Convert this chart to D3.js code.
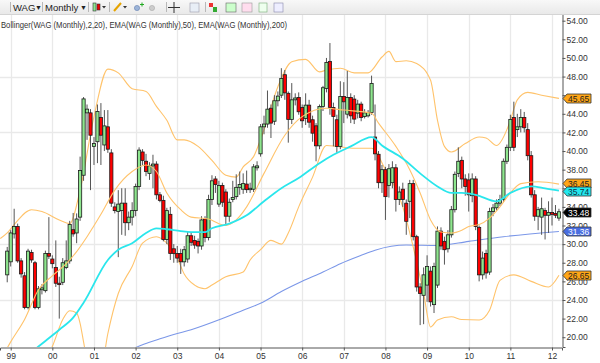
<!DOCTYPE html>
<html><head><meta charset="utf-8">
<script src="https://cdn.jsdelivr.net/npm/d3@7"></script>
<style>
body{margin:0;background:#fff;overflow:hidden;}
svg{display:block;font-family:"Liberation Sans",Arial,sans-serif;}
</style></head><body>
<svg id="c" width="600" height="363"></svg>
<script>
// ---------- DATA ----------
const symbol = "WAG";
const period = "Monthly";
const legendText = "Bollinger(WAG (Monthly),2,20), EMA(WAG (Monthly),50), EMA(WAG (Monthly),200)";
const firstMonthIndex = -1; // Dec 1998 (0 = Jan 1999)
const yearTicks = [0,12,24,36,48,60,72,84,96,108,120,132,144,156];
const yearLabels = ["99","00","01","02","03","04","05","06","07","08","09","10","11","12"];
const priceTicks = [20,22,24,26,28,30,32,34,36,38,40,42,44,46,48,50,52,54];
const gridPrices = [24,30,36,42,48];

const open = [26.7,28.1,31.1,31.9,28.2,26.6,23.2,29.1,28.0,23.2,25.1,25.0,29.0,28.4,27.5,25.8,25.9,27.5,28.2,31.55,31.2,32.9,37.4,44.1,44.1,40.5,41.0,43.6,40.65,42.6,39.8,34.0,33.5,33.6,34.4,32.3,32.9,33.6,36.2,39.9,38.9,37.6,38.4,38.6,35.3,34.7,30.5,33.2,29.5,29.0,29.0,28.1,28.4,
30.9,30.4,30.3,29.8,32.7,30.7,34.8,37.0,34.3,36.3,35.6,33.0,34.8,35.1,36.1,35.9,36.45,35.85,35.9,38.2,39.7,42.6,42.9,44.6,43.2,45.4,46.0,48.2,46.2,43.4,45.5,45.76,44.68,43.5,44.93,43.36,42.71,40.56,44.79,46.72,49.63,44.68,43.36,40.49,45.86,43.96,45.76,45.58,44.07,45.04,43.7,43.78,44.14,
41.5,39.65,36.6,38.0,36.3,36.6,38.2,34.8,35.9,34.4,34.6,36.5,30.8,25.4,24.5,25.6,27.1,23.5,25.6,31.4,30.3,29.5,31.0,33.7,37.6,39.0,37.0,36.9,35.2,37.0,31.8,26.7,29.0,27.0,33.5,33.9,34.4,34.8,38.9,40.4,43.6,42.3,42.6,43.6,42.3,39.5,35.3,33.0,32.9,33.6,33.1,33.4,33.3,32.8];
const high = [29.7,31.5,33.8,32.2,28.5,27.0,29.5,29.4,28.2,25.5,25.7,29.3,32.9,28.8,30.4,26.5,28.5,30.4,32.5,33.35,33.3,39.4,45.8,45.0,44.5,41.5,45.0,45.15,44.4,44.4,40.2,34.5,35.8,36.0,36.0,33.5,34.5,36.5,40.4,40.2,39.7,38.8,39.6,38.9,35.6,35.2,33.9,34.0,30.0,29.8,29.5,29.8,31.3,
31.3,30.9,30.6,33.0,33.0,35.3,37.4,37.3,36.8,36.6,35.9,34.9,36.8,37.5,37.8,37.6,37.9,36.6,38.6,38.9,42.9,43.8,46.5,45.0,46.0,46.4,48.9,48.7,46.4,47.3,46.2,46.3,45.0,46.2,45.5,43.8,43.0,45.0,47.0,50.0,51.6,45.2,43.9,47.5,47.4,48.6,46.2,46.0,45.5,45.3,44.5,44.4,48.1,
45.0,40.0,38.5,38.3,38.6,38.9,38.6,36.2,36.6,34.8,36.9,36.9,31.0,25.8,27.5,28.8,27.6,28.0,31.9,31.8,30.8,31.5,34.1,37.8,40.4,39.4,37.5,37.6,37.6,37.3,32.0,29.2,29.4,33.9,34.3,34.8,35.3,39.2,40.7,43.9,45.3,44.0,44.5,44.2,43.0,40.0,35.8,34.0,35.0,33.9,34.6,35.0,34.2,33.8];
const low = [25.9,27.6,30.6,28.0,26.4,23.0,23.0,28.0,23.0,23.0,24.6,24.8,28.4,27.4,25.4,22.0,25.6,27.3,27.9,30.8,30.1,32.5,36.8,41.2,35.8,38.5,38.7,38.5,40.0,39.8,34.0,33.3,28.6,31.0,30.9,31.5,32.0,33.0,35.8,38.5,37.3,36.9,36.0,34.8,34.5,30.3,30.0,28.3,28.0,28.0,26.8,27.6,28.0,
29.8,29.5,29.0,29.4,30.2,30.4,34.2,35.5,34.0,34.0,32.0,32.4,34.5,34.8,35.3,35.4,35.5,35.5,35.6,37.9,39.4,41.8,42.5,41.4,42.8,44.8,45.7,45.5,40.9,42.9,44.9,43.9,42.5,42.8,42.5,41.0,38.9,40.2,44.3,46.3,43.9,40.5,39.8,40.2,43.0,43.5,43.0,42.9,43.5,43.2,43.5,43.6,43.9,
39.0,36.0,35.5,32.6,35.0,36.0,33.5,34.2,34.0,31.0,32.8,30.4,24.9,21.3,21.4,23.8,23.3,22.6,25.3,29.4,27.8,29.1,30.7,33.4,37.2,36.0,35.2,33.5,34.5,31.5,26.0,26.2,26.3,26.7,33.0,33.6,34.1,34.5,38.6,40.0,40.0,41.5,42.0,42.0,39.0,35.0,32.5,31.5,31.0,30.5,31.2,32.0,32.8,32.5];
const close = [29.25,31.2,31.9,28.2,26.8,23.2,29.25,28.3,23.2,25.2,25.3,29.0,28.7,27.9,25.8,25.65,28.0,28.2,32.1,31.1,32.7,37.9,45.6,44.5,41.7,40.8,44.25,41.7,42.7,40.2,34.4,33.6,34.3,34.4,32.3,32.9,33.6,36.2,40.1,39.0,37.8,38.4,38.6,35.3,34.7,30.5,33.6,29.0,29.0,28.5,28.1,29.4,30.9,
30.2,29.9,29.8,32.6,30.7,34.8,36.8,36.4,36.3,34.5,33.0,34.5,35.0,36.1,36.4,36.5,35.85,36.0,38.3,38.4,42.6,42.9,44.5,43.0,45.4,45.9,47.8,46.25,43.4,45.5,45.7,44.22,43.25,44.93,43.1,41.92,40.56,44.79,46.8,49.52,44.68,43.71,40.49,45.86,45.29,45.76,43.78,43.43,45.04,43.61,44.1,44.14,47.26,
39.7,36.6,38.0,35.1,38.1,38.2,34.8,35.6,34.8,32.45,36.5,30.8,25.4,24.7,26.7,27.6,23.8,27.6,31.4,29.8,29.4,31.0,33.7,37.5,38.9,37.0,36.2,35.3,37.0,31.9,26.7,28.5,26.9,33.5,33.9,34.4,34.8,38.9,40.4,43.4,40.4,42.6,43.6,42.5,39.5,35.3,33.0,33.7,33.8,33.1,33.4,33.2,33.1,33.48];

const bbUpper = [[-3,30.6],[-1,31.2],[1,32.1],[6,33.7],[9,33.5],[14,32.6],[17,32.2],[20,35.8],[24,43.7],[28,48.8],[31,48.4],[35,46.7],[39,46.4],[42,44.8],[45,43.3],[48,41.2],[50,41.2],[54,40.5],[58,39.0],[62,37.4],[65,37.2],[67,38.3],[70,39.4],[73,42.3],[77,46.9],[81,49.6],[85,49.85],[89,48.5],[91,48.7],[95,48.9],[99,48.4],[103,48.4],[107,50.1],[109,50.7],[111,49.6],[114,49.7],[117,49.4],[121,47.6],[123,43.3],[125,40.5],[127,39.9],[131,40.8],[135,41.5],[137,41.4],[140,40.6],[143,42.3],[144,43.3],[146,45.5],[149,46.3],[153,46.0],[158,45.65]];
const bbMiddle = [[-3,17.5],[0,19.5],[4,21.9],[8,25.1],[12,26.6],[16,27.9],[19,29.2],[22,30.8],[26,33.2],[30,35.8],[35,37.8],[39,38.5],[42,37.8],[45,35.5],[49,33.7],[52,32.9],[57,32.7],[60,32.2],[62,32.0],[65,32.6],[68,34.0],[73,37.6],[79,41.7],[84,43.7],[91,44.6],[96,44.4],[104,44.05],[106,43.0],[111,40.5],[115,38.0],[118,35.5],[121,32.6],[124,31.3],[127,31.2],[130,31.5],[132,31.9],[135,32.1],[138,32.8],[141,34.0],[144,35.5],[147,36.5],[152,36.7],[158,36.45]];
const bbLower = [[10,17.5],[12,19.0],[15,21.9],[17,22.85],[19,22.6],[20,21.5],[21,19.5],[23,16.0],[26,16.5],[28,20.4],[31,24.7],[35,27.6],[38,30.1],[42,30.8],[45,30.1],[48,28.5],[50,26.8],[53,25.6],[56,25.2],[58,25.6],[62,26.5],[67,27.0],[69,28.3],[72,29.4],[75,30.4],[78,30.0],[80,31.2],[83,34.0],[87,37.2],[91,40.6],[94,40.5],[99,40.3],[104,40.3],[108,38.0],[113,34.0],[116,29.7],[119,24.7],[121,21.1],[123,21.85],[127,22.2],[130,21.9],[135,21.85],[138,22.9],[141,26.1],[145,26.7],[150,26.0],[155,25.4],[158,26.65]];
const ema50 = [[3,17.5],[8,19.0],[10,19.6],[14,20.8],[18,22.1],[21,23.7],[28,28.3],[31,29.4],[35,30.1],[39,31.2],[42,31.7],[45,31.6],[49,31.4],[52,31.3],[56,31.3],[58,31.7],[63,32.2],[68,33.1],[73,34.6],[78,36.0],[83,37.1],[89,38.7],[93,39.6],[98,40.5],[104,41.5],[107,40.6],[113,39.2],[118,37.6],[123,36.2],[127,35.5],[130,35.5],[134,35.3],[140,34.6],[144,35.5],[150,36.2],[154,36.0],[158,35.74]];
const ema200 = [[30,18.3],[36,18.9],[38,19.2],[42,19.7],[47,20.3],[52,20.8],[61,22.0],[67,22.9],[72,23.65],[78,24.9],[84,26.0],[90,27.0],[95,27.9],[101,28.8],[105,29.35],[114,29.9],[123,29.85],[132,30.3],[142,30.8],[158,31.36]];

// ---------- CHART ----------
const svg = d3.select("#c");
const W = 600, H = 363;
const plot = {left:0, right:562, top:14, bottom:347};
const x = d3.scaleLinear().domain([-3.084, 158.88]).range([plot.left, plot.right]);
const y = d3.scaleLinear().domain([18.95, 54.72]).range([plot.bottom, plot.top]);
const FONT = "'Liberation Sans',Arial,sans-serif";

svg.append("rect").attr("width",W).attr("height",H).attr("fill","#fff");

// grid
const grid = svg.append("g");
grid.selectAll(".vg").data(yearTicks).join("line")
  .attr("x1",d=>Math.round(x(d))+0.5).attr("x2",d=>Math.round(x(d))+0.5)
  .attr("y1",plot.top).attr("y2",plot.bottom).attr("stroke","#e9e9e9").attr("stroke-width",1.3);
grid.selectAll(".hg").data(gridPrices).join("line")
  .attr("x1",plot.left).attr("x2",plot.right)
  .attr("y1",d=>Math.round(y(d))+0.5).attr("y2",d=>Math.round(y(d))+0.5)
  .attr("stroke","#e9e9e9").attr("stroke-width",1.3);

// clip
svg.append("clipPath").attr("id","clip").append("rect")
  .attr("x",plot.left).attr("y",plot.top).attr("width",plot.right-plot.left).attr("height",plot.bottom-plot.top);
const g = svg.append("g").attr("clip-path","url(#clip)");

const line = d3.line().x(d=>x(d[0])).y(d=>y(d[1])).curve(d3.curveMonotoneX);
const bbColor = "#ffc36b";
g.append("path").attr("d",line(ema200)).attr("fill","none").attr("stroke","#7b97e8").attr("stroke-width",1.1);
g.append("path").attr("d",line(bbLower)).attr("fill","none").attr("stroke",bbColor).attr("stroke-width",1.1);
g.append("path").attr("d",line(bbUpper)).attr("fill","none").attr("stroke",bbColor).attr("stroke-width",1.1);

// candles
const candles = close.map((c,k)=>({i:firstMonthIndex+k, o:open[k], h:high[k], l:low[k], c:c}));
const cg = g.append("g");
cg.selectAll(".wick").data(candles).join("line")
  .attr("x1",d=>x(d.i)).attr("x2",d=>x(d.i))
  .attr("y1",d=>y(d.h)).attr("y2",d=>y(d.l))
  .attr("stroke","#555").attr("stroke-width",1);
cg.selectAll(".body").data(candles).join("rect")
  .attr("x",d=>x(d.i)-1.6).attr("width",3.2)
  .attr("y",d=>y(Math.max(d.o,d.c)))
  .attr("height",d=>Math.max(1,Math.abs(y(d.o)-y(d.c))))
  .attr("fill",d=>d.c>=d.o?"#8ee68e":"#ff0000")
  .attr("stroke","#1a1a1a").attr("stroke-width",0.8);

g.append("path").attr("d",line(bbMiddle)).attr("fill","none").attr("stroke",bbColor).attr("stroke-width",1.1);
g.append("path").attr("d",line(ema50)).attr("fill","none").attr("stroke","#2ae6ec").attr("stroke-width",1.8);

// last values shown in flags
const flags = [
  {v: bbUpper[bbUpper.length-1][1], fill:"#ffa617", txt:"#222", dy:0},
  {v: bbMiddle[bbMiddle.length-1][1], fill:"#ffa617", txt:"#222", dy:-1.5},
  {v: ema50[ema50.length-1][1], fill:"#22e8ee", txt:"#134", dy:0.5},
  {v: close[close.length-1], fill:"#000", txt:"#fff", dy:0},
  {v: ema200[ema200.length-1][1], fill:"#4a6ee0", txt:"#fff", dy:0},
  {v: bbLower[bbLower.length-1][1], fill:"#ffa617", txt:"#222", dy:0}
];

// axes (tick labels fully hidden by a flag are omitted)
const hidden = priceTicks.filter(t => flags.some(f => Math.abs(y(t)-y(f.v)) < 4.5));
const yAxis = d3.axisRight(y).tickValues(priceTicks).tickSize(3)
  .tickFormat(d => hidden.includes(d) ? "" : d3.format(".2f")(d));
const ya = svg.append("g").attr("transform",`translate(${plot.right+0.5},0)`).call(yAxis);
ya.select(".domain").attr("stroke","#555");
ya.selectAll(".tick line").attr("stroke","#555");
ya.selectAll(".tick text").attr("x",4).attr("fill","#333").style("font-size","8.5px").style("font-family",FONT);

const xAxis = d3.axisBottom(x).tickValues(yearTicks).tickSize(3).tickFormat((d,k)=>yearLabels[k]);
const xa = svg.append("g").attr("transform",`translate(0,${plot.bottom+0.5})`).call(xAxis);
xa.select(".domain").attr("stroke","#555");
xa.selectAll(".tick line").attr("stroke","#555");
xa.selectAll(".tick text").attr("y",5).attr("fill","#333").style("font-size","8.5px").style("font-family",FONT);

function flag(f){
  const yc = Math.round(y(f.v)+f.dy)+0.5;
  const x0 = plot.right+1;
  const gg = svg.append("g");
  gg.append("path").attr("d",`M${x0},${yc} L${x0+4},${yc-4.5} L${x0+28},${yc-4.5} L${x0+28},${yc+4.5} L${x0+4},${yc+4.5} Z`)
    .attr("fill",f.fill).attr("stroke","#333").attr("stroke-width",0.8);
  gg.append("text").attr("x",x0+5).attr("y",yc+3).attr("fill",f.txt)
    .style("font-size","8.5px").text(d3.format(".2f")(f.v));
}
flags.forEach(flag);

// legend
svg.append("text").attr("x",1).attr("y",28).attr("fill","#333").style("font-size","8.6px")
  .attr("textLength",286).attr("lengthAdjust","spacingAndGlyphs").text(legendText);

// toolbar
const defs = svg.append("defs");
const lg = defs.append("linearGradient").attr("id","tb").attr("x1",0).attr("x2",0).attr("y1",0).attr("y2",1);
lg.append("stop").attr("offset",0).attr("stop-color","#f8f8f8");
lg.append("stop").attr("offset",1).attr("stop-color","#e9e9e9");
const tb = svg.append("g");
tb.append("rect").attr("width",W).attr("height",14).attr("fill","url(#tb)");
tb.append("line").attr("x1",0).attr("x2",W).attr("y1",14.5).attr("y2",14.5).attr("stroke","#d4d4d4");
[10,42,88,109,166,205].forEach(sx=>{
  tb.append("line").attr("x1",sx+0.5).attr("x2",sx+0.5).attr("y1",2).attr("y2",12).attr("stroke","#b8b8b8");
});
tb.append("text").attr("x",13).attr("y",10.5).attr("fill","#222").style("font-size","9.5px").text(symbol);
tb.append("text").attr("x",35).attr("y",10).attr("fill","#222").style("font-size","7px").text("▼");
tb.append("text").attr("x",45).attr("y",10.5).attr("fill","#222").style("font-size","9.5px").text(period);
tb.append("text").attr("x",80).attr("y",10).attr("fill","#222").style("font-size","7px").text("▼");
// icons
const ic = tb.append("g");
ic.append("rect").attr("x",93).attr("y",3).attr("width",3).attr("height",8).attr("fill","#8ee68e").attr("stroke","#333").attr("stroke-width",0.6);
ic.append("rect").attr("x",97).attr("y",4).attr("width",3).attr("height",6).attr("fill","#e00").attr("stroke","#333").attr("stroke-width",0.6);
ic.append("path").attr("d","M102,6 L106,6 L104,8.5 Z").attr("fill","#333");
ic.append("line").attr("x1",114).attr("y1",11).attr("x2",121).attr("y2",3).attr("stroke","#e6a400").attr("stroke-width",2);
ic.append("path").attr("d","M123,6 L127,6 L125,8.5 Z").attr("fill","#333");
ic.append("circle").attr("cx",137).attr("cy",8).attr("r",2.6).attr("fill","#9cb4d8").attr("stroke","#6682b0").attr("stroke-width",0.6);
ic.append("path").attr("d","M140,4.5 L144,4.5 M142,2.5 L142,6.5").attr("stroke","#2a2").attr("stroke-width",1);
ic.append("circle").attr("cx",152).attr("cy",8).attr("r",2.6).attr("fill","#ccc").attr("stroke","#aaa").attr("stroke-width",0.6);
ic.append("line").attr("x1",168).attr("x2",180).attr("y1",7.5).attr("y2",7.5).attr("stroke","#333");
ic.append("line").attr("x1",174).attr("x2",174).attr("y1",2).attr("y2",13).attr("stroke","#333");
ic.append("rect").attr("x",190).attr("y",3).attr("width",9).attr("height",9).attr("fill","#e8eef6").attr("stroke","#99a").attr("stroke-width",0.6);
ic.append("rect").attr("x",209).attr("y",3).attr("width",4).attr("height",4).attr("fill","#e33");
ic.append("rect").attr("x",213).attr("y",7).attr("width",4).attr("height",5).attr("fill","#3a3");
ic.append("rect").attr("x",226).attr("y",3).attr("width",10).attr("height",9).attr("fill","#cfc").attr("stroke","#666").attr("stroke-width",0.6);
ic.append("rect").attr("x",242).attr("y",3).attr("width",10).attr("height",9).attr("fill","#fde").attr("stroke","#999").attr("stroke-width",0.6);
ic.append("rect").attr("x",259).attr("y",3).attr("width",8).attr("height",9).attr("fill","#efe").attr("stroke","#7a7").attr("stroke-width",0.6);
ic.append("rect").attr("x",274).attr("y",3).attr("width",9).attr("height",9).attr("fill","#eef").attr("stroke","#88a").attr("stroke-width",0.6);
</script>
</body></html>
